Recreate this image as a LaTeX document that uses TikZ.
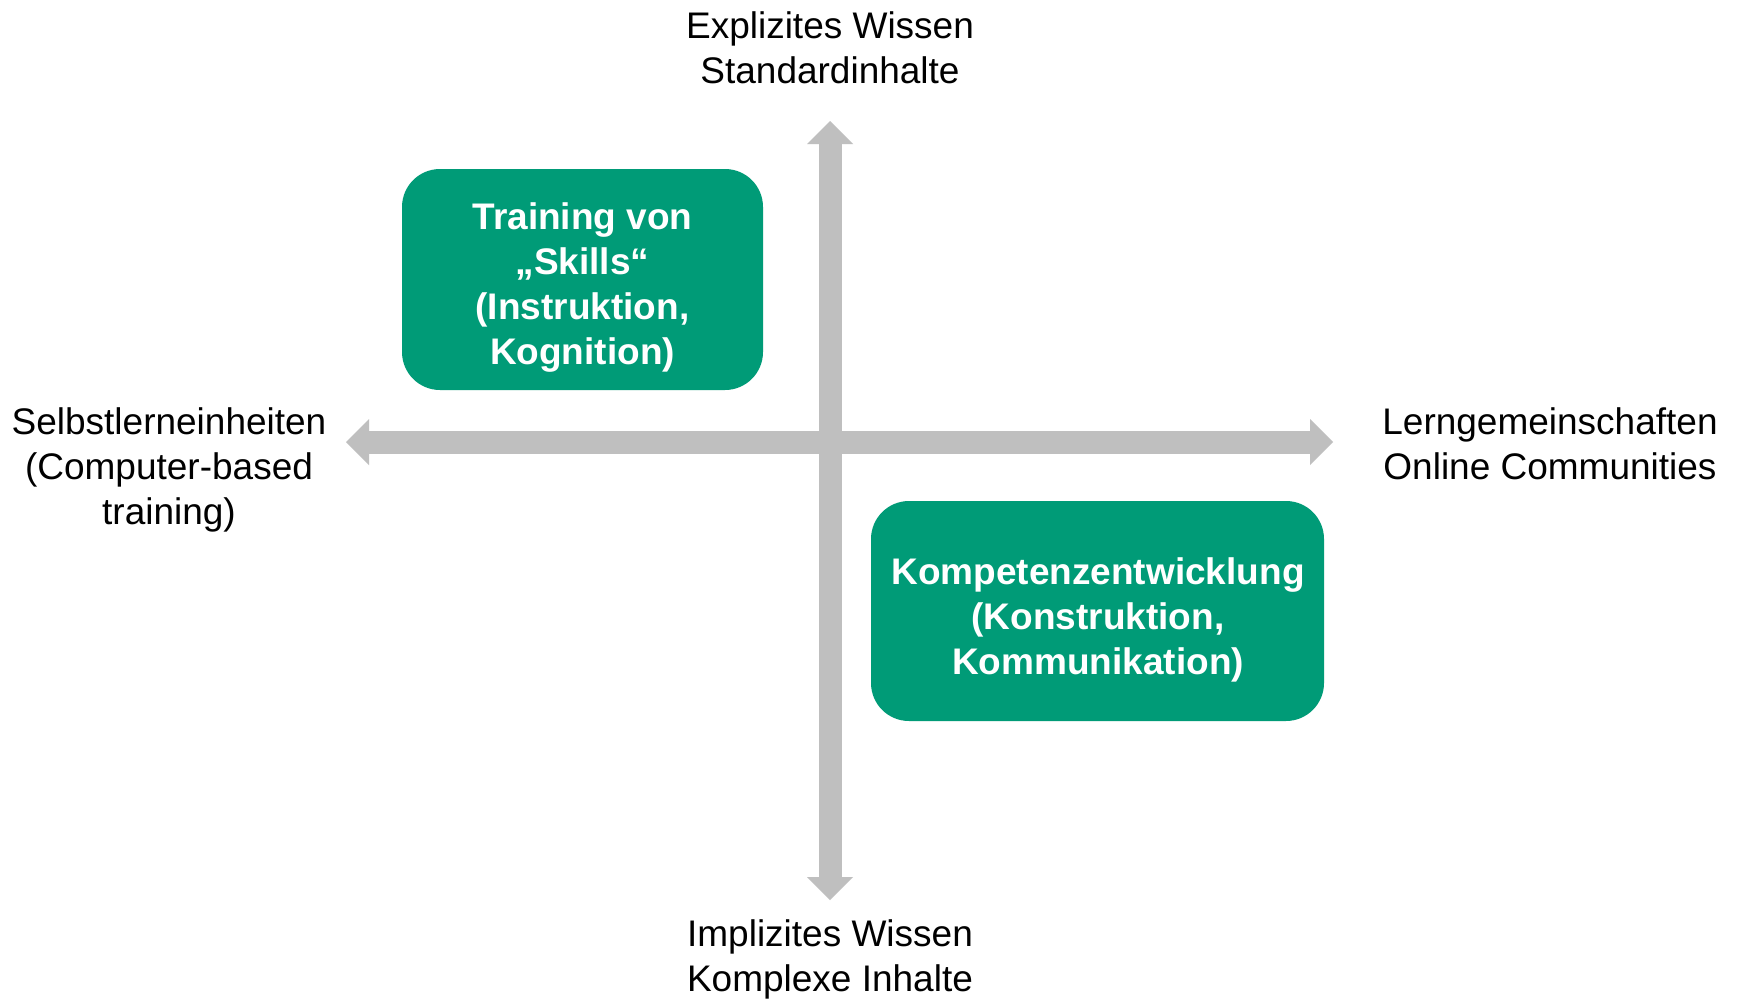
\documentclass[tikz,border=0pt]{standalone}
\usepackage{fontspec}
\setmainfont{Liberation Sans}
\usetikzlibrary{arrows.meta}
\definecolor{boxgreen}{RGB}{0,155,119}
\definecolor{axisgray}{RGB}{191,191,191}
\begin{document}
\begin{tikzpicture}[x=1pt,y=-1pt,
  lbl/.style={align=center,font=\fontsize{37}{45}\selectfont,inner sep=0pt},
  quad/.style={fill=boxgreen,rounded corners=38pt,inner sep=0pt},
  quadtext/.style={text=white,align=center,
    font=\bfseries\fontsize{37}{45}\selectfont,inner sep=0pt},
  axis/.style={draw=axisgray,line width=23pt,
    {Triangle[width=46pt,length=23pt,line width=0pt]}-{Triangle[width=46pt,length=23pt,line width=0pt]}}]
\useasboundingbox[fill=white] (0,0) rectangle (1737,999);
\coordinate (top) at (830,121);
\coordinate (bot) at (830,900);
\coordinate (lft) at (346,442);
\coordinate (rgt) at (1333,442);
\draw[axis] (top) -- (bot);
\draw[axis] (lft) -- (rgt);
\node[quad,minimum width=361pt,minimum height=221pt] (skills) at (582.5,279.5) {};
\node[quadtext] (skillstext) at (582.5,288)
  {Training von\\„Skills“\\(Instruktion,\\Kognition)};
\node[quad,minimum width=453pt,minimum height=220pt] (komp) at (1097.5,611) {};
\node[quadtext] (komptext) at (1098,620)
  {Kompetenzentwicklung\\(Konstruktion,\\Kommunikation)};
\node[lbl] (explizit) at (830,48) {Explizites Wissen\\Standardinhalte};
\node[lbl] (implizit) at (830,959) {Implizites Wissen\\Komplexe Inhalte};
\node[lbl] (selbst) at (169,469.5) {Selbstlerneinheiten\\(Computer-based\\training)};
\node[lbl] (lern) at (1550,443.5) {Lerngemeinschaften\\Online Communities};
\end{tikzpicture}
\end{document}
